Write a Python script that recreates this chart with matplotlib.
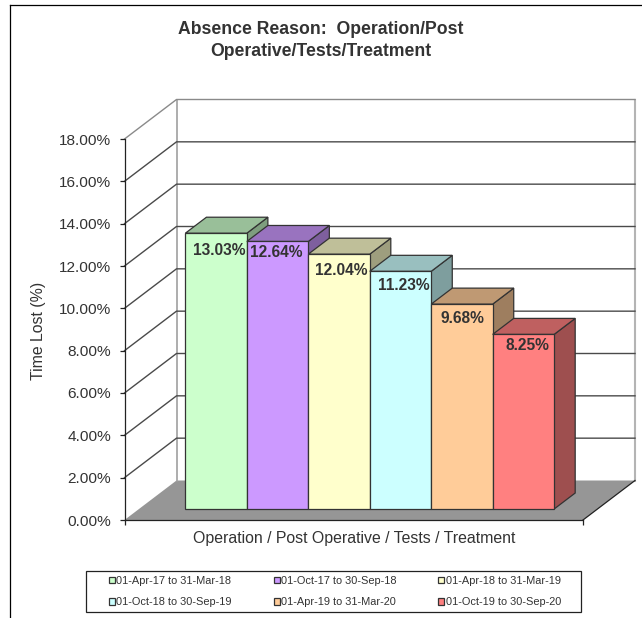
import numpy as np
import matplotlib
matplotlib.use("Agg")
import matplotlib.pyplot as plt
from matplotlib.lines import Line2D
from matplotlib.patches import Rectangle

plt.rcParams['font.family'] = ['Liberation Sans', 'DejaVu Sans']

periods = ["01-Apr-17 to 31-Mar-18", "01-Oct-17 to 30-Sep-18", "01-Apr-18 to 31-Mar-19",
           "01-Oct-18 to 30-Sep-19", "01-Apr-19 to 31-Mar-20", "01-Oct-19 to 30-Sep-20"]
values = [13.03, 12.64, 12.04, 11.23, 9.68, 8.25]
colors = ["#CCFFCC", "#CC99FF", "#FFFFCC", "#CCFFFF", "#FFCC99", "#FF8080"]
yticks = [0, 2, 4, 6, 8, 10, 12, 14, 16, 18]
title = "Absence Reason:  Operation/Post\nOperative/Tests/Treatment"
xlabel = "Operation / Post Operative / Tests / Treatment"
ylabel = "Time Lost (%)"

# label nudges in pixels (manual placement in the original)
label_dx = [3, -1, 2, 3, 1, 4]
label_dy = [-17, -11, -16, -14, -14, -11]

W, H = 642, 618
fig = plt.figure(figsize=(W / 100, H / 100), dpi=100, facecolor="white")
# front plane of the 3-D box, in pixels
L, R, T, B = 124.5, 583.0, 139.0, 520.0
ax = fig.add_axes([L / W, 1 - B / H, (R - L) / W, (B - T) / H])
ax.patch.set_alpha(0)

gap_l, gap_r = 0.755, 0.705
xmin, xmax = -0.5 - gap_l, 5.5 + gap_r
ax.set_xlim(xmin, xmax)
ax.set_ylim(0, 18)
px_x = (xmax - xmin) / (R - L)
px_y = 18 / (B - T)
DX, DY = 52.0 * px_x, 39.5 * px_y   # full depth of the box, data units


def proj(x, y, d):
    return x + d * DX, y + d * DY


def face(pts, **kw):
    xs, ys = zip(*[proj(*p) for p in pts])
    ax.fill(xs, ys, clip_on=False, **kw)


def shade(c, f):
    r, g, b = matplotlib.colors.to_rgb(c)
    return (r * f, g * f, b * f)


# floor
face([(xmin, 0, 0), (xmin, 0, 1), (xmax, 0, 1), (xmax, 0, 0)], facecolor="#969696", edgecolor="none", zorder=1)
ax.plot(*zip(proj(xmax, 0, 0), proj(xmax, 0, 1)), color="#222222", lw=0.9, clip_on=False, zorder=1.5)

# walls and gridlines
for v in yticks[1:]:
    pts = [proj(xmin, v, 0), proj(xmin, v, 1), proj(xmax, v, 1)]
    col = "#8a8a8a" if v == 18 else "#4a4a4a"
    ax.plot(*zip(*pts), color=col, lw=1.0, clip_on=False, zorder=1.2)
ax.plot(*zip(proj(xmin, 0, 1), proj(xmin, 18, 1)), color="#a0a0a0", lw=1.2, clip_on=False, zorder=1.1)
ax.plot(*zip(proj(xmax, 0, 1), proj(xmax, 18, 1)), color="#b4b4b4", lw=1.5, clip_on=False, zorder=1.1)

# bars
d0, d1 = 0.278, 0.683
handles = []
edge = "#333333"
for i, (v, c) in enumerate(zip(values, colors)):
    z = 2 + i * 0.1
    face([(i + 0.5, 0, d0), (i + 0.5, 0, d1), (i + 0.5, v, d1), (i + 0.5, v, d0)],
         facecolor=shade(c, 0.62), edgecolor=edge, linewidth=0.9, zorder=z)
    face([(i - 0.5, v, d0), (i - 0.5, v, d1), (i + 0.5, v, d1), (i + 0.5, v, d0)],
         facecolor=shade(c, 0.75), edgecolor=edge, linewidth=0.9, zorder=z)
    fx, fy = proj(i, 0, d0)
    b = ax.bar(fx, v, bottom=fy, width=1.0, color=c, edgecolor=edge, linewidth=0.9,
               clip_on=False, zorder=z + 0.01, label=periods[i])
    handles.append(b[0])
    ax.annotate(f"{v:.2f}%", (fx, fy + v), xytext=(label_dx[i] * 0.72, label_dy[i] * 0.72),
                textcoords="offset points", ha="center", va="center", fontsize=11.2,
                fontweight="bold", color="#333333", zorder=5, annotation_clip=False)

# axes
for s in ("top", "right"):
    ax.spines[s].set_visible(False)
for s in ("left", "bottom"):
    ax.spines[s].set_color("#222222")
    ax.spines[s].set_linewidth(0.9)
    ax.spines[s].set_zorder(6)
ax.set_yticks(yticks, [f"{v:.2f}%" for v in yticks], fontsize=11.1, color="#333333")
ax.set_xticks([xmin, xmax], ["", ""])
ax.tick_params(axis="both", length=3.5, width=0.9, color="#222222", pad=6)

fig.text(38 / W, 1 - 331 / H, ylabel, rotation=90, ha="center", va="center", fontsize=11.4, color="#333333")
fig.text(354.5 / W, 1 - 539 / H, xlabel, ha="center", va="center", fontsize=11.4, color="#333333")
fig.text(321 / W, 1 - 40.5 / H, title, ha="center", va="center", fontsize=12.7, fontweight="bold",
         color="#333333", linespacing=1.35)

# legend box (filled by column, reads by row)
fig.add_artist(Rectangle((85.7 / W, 1 - 612 / H), (581 - 85.7) / W, (612 - 570.7) / H, transform=fig.transFigure,
                         facecolor="white", edgecolor="#222222", linewidth=0.9))
order = [0, 3, 1, 4, 2, 5]
leg = fig.legend([handles[i] for i in order], [periods[i] for i in order], ncol=3,
                 loc="center", bbox_to_anchor=(335 / W, 1 - 591.5 / H),
                 fontsize=7.9, frameon=False,
                 handlelength=0.55, handleheight=0.55, handletextpad=0.12,
                 columnspacing=3.8, labelspacing=1.05, labelcolor="#333333",
                 borderpad=0.7, borderaxespad=0)
leg.set_zorder(10)

# outer chart frame
fig.add_artist(Line2D([10 / W, 10 / W], [0, 1 - 4.5 / H], color="black", lw=0.9))
fig.add_artist(Line2D([10 / W, 1], [1 - 4.5 / H, 1 - 4.5 / H], color="black", lw=0.9))

fig.savefig("out.png", dpi=100)
